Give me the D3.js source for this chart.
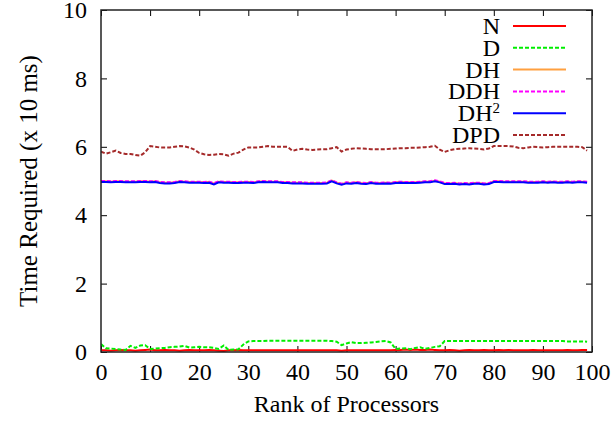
<!DOCTYPE html>
<html><head><meta charset="utf-8">
<script src="https://cdn.jsdelivr.net/npm/d3@7"></script>
<style>body{margin:0;background:#fff}svg{display:block}</style>
</head><body><svg id="c" width="611" height="421"></svg>
<script>
const ranks = d3.range(0,100);
const xTicks = [0,10,20,30,40,50,60,70,80,90,100];
const yTicks = [0,2,4,6,8,10];
const seriesNames = ["N","D","DH","DDH","DH2","DPD"];
const N = [0.05,0.05,0.04,0.05,0.06,0.05,0.05,0.04,0.05,0.06,0.07,0.05,0.05,0.06,0.05,0.05,0.04,0.05,0.06,0.05,
0.05,0.05,0.06,0.05,0.04,0.03,0.05,0.05,0.06,0.05,0.05,0.05,0.05,0.05,0.05,0.05,0.05,0.05,0.05,0.05,
0.05,0.05,0.05,0.05,0.05,0.05,0.05,0.05,0.05,0.04,0.05,0.05,0.05,0.05,0.05,0.05,0.05,0.05,0.05,0.05,
0.06,0.06,0.07,0.06,0.07,0.06,0.06,0.07,0.06,0.05,0.05,0.06,0.05,0.04,0.05,0.06,0.05,0.05,0.06,0.05,
0.05,0.06,0.05,0.06,0.05,0.05,0.05,0.05,0.06,0.05,0.05,0.05,0.05,0.05,0.05,0.06,0.05,0.05,0.06,0.06];
const D = [0.23,0.11,0.10,0.09,0.07,0.06,0.18,0.12,0.19,0.20,0.09,0.10,0.11,0.12,0.14,0.15,0.16,0.18,0.13,0.14,
0.15,0.14,0.14,0.12,0.09,0.19,0.06,0.07,0.08,0.22,0.31,0.32,0.32,0.32,0.33,0.33,0.33,0.33,0.33,0.33,
0.33,0.33,0.33,0.33,0.33,0.33,0.33,0.32,0.30,0.20,0.25,0.29,0.26,0.26,0.27,0.28,0.29,0.31,0.32,0.28,
0.09,0.10,0.11,0.08,0.12,0.14,0.09,0.12,0.15,0.17,0.32,0.32,0.32,0.32,0.32,0.32,0.32,0.32,0.32,0.32,
0.32,0.32,0.32,0.32,0.32,0.32,0.32,0.32,0.32,0.32,0.32,0.32,0.32,0.32,0.32,0.31,0.31,0.31,0.31,0.30];
const DH = [4.99,4.99,4.98,4.99,4.99,4.98,4.98,4.98,4.99,4.99,4.98,4.99,4.96,4.95,4.95,4.96,4.99,4.98,4.97,4.97,
4.97,4.96,4.97,4.93,4.98,4.97,4.97,4.96,4.96,4.97,4.97,4.96,4.98,4.99,4.98,4.98,4.98,4.96,4.96,4.95,
4.95,4.95,4.94,4.94,4.94,4.94,4.95,5.01,4.95,4.91,4.95,4.94,4.96,4.94,4.93,4.96,4.94,4.94,4.95,4.94,
4.96,4.97,4.96,4.96,4.96,4.97,4.98,4.98,5.01,4.98,4.93,4.93,4.94,4.92,4.93,4.92,4.94,4.94,4.92,4.93,
4.99,4.99,4.98,4.98,4.98,4.98,4.98,4.97,4.97,4.97,4.98,4.97,4.98,4.97,4.97,4.98,4.97,4.98,4.98,4.97];
const DDH = [5.00,5.00,4.99,5.00,5.00,4.99,4.99,4.99,5.00,5.00,4.99,5.00,4.97,4.96,4.96,4.97,5.00,4.99,4.98,4.98,
4.98,4.97,4.98,4.94,4.99,4.98,4.98,4.97,4.97,4.98,4.98,4.97,4.99,5.00,4.99,4.99,4.99,4.97,4.97,4.96,
4.96,4.96,4.95,4.95,4.95,4.95,4.96,5.02,4.96,4.92,4.96,4.95,4.97,4.95,4.94,4.97,4.95,4.95,4.96,4.95,
4.97,4.98,4.97,4.97,4.97,4.98,4.99,4.99,5.02,4.99,4.94,4.94,4.95,4.93,4.94,4.93,4.95,4.95,4.93,4.94,
5.00,5.00,4.99,4.99,4.99,4.99,4.99,4.98,4.98,4.98,4.99,4.98,4.99,4.98,4.98,4.99,4.98,4.99,4.99,4.98];
const DH2 = [4.97,4.97,4.96,4.97,4.97,4.96,4.96,4.96,4.97,4.97,4.96,4.97,4.94,4.93,4.93,4.94,4.97,4.96,4.95,4.95,
4.95,4.94,4.95,4.90,4.96,4.95,4.95,4.94,4.94,4.95,4.95,4.94,4.96,4.97,4.96,4.96,4.96,4.94,4.94,4.93,
4.93,4.93,4.92,4.92,4.92,4.92,4.93,4.99,4.93,4.89,4.93,4.92,4.94,4.92,4.91,4.94,4.92,4.92,4.93,4.92,
4.94,4.95,4.94,4.94,4.94,4.95,4.96,4.96,4.99,4.96,4.91,4.91,4.92,4.90,4.91,4.90,4.92,4.92,4.90,4.91,
4.97,4.97,4.96,4.96,4.96,4.96,4.96,4.95,4.95,4.95,4.96,4.95,4.96,4.95,4.95,4.96,4.95,4.96,4.96,4.95];
const DPD = [5.86,5.80,5.84,5.89,5.82,5.79,5.79,5.76,5.74,5.84,6.02,6.00,5.98,5.98,5.98,6.00,6.02,6.01,5.98,5.92,
5.82,5.78,5.76,5.77,5.79,5.78,5.74,5.80,5.83,5.92,5.98,5.98,5.98,6.00,6.02,6.00,6.00,6.00,6.00,5.88,
5.92,5.94,5.92,5.91,5.92,5.93,5.93,5.96,5.99,5.86,5.92,5.94,5.96,5.95,5.94,5.93,5.93,5.93,5.93,5.94,
5.95,5.96,5.96,5.97,5.97,5.98,5.99,6.00,6.03,5.92,5.85,5.90,5.93,5.94,5.95,5.96,5.95,5.94,5.92,5.95,
6.02,6.02,6.02,6.02,6.01,5.97,5.96,5.98,6.00,5.99,5.98,5.99,6.00,6.00,6.00,6.00,6.00,6.00,5.99,5.89];

const series = [
  {name:"N", values:N, color:"#ff0000", dash:null},
  {name:"D", values:D, color:"#00ee00", dash:"4,2"},
  {name:"DH", values:DH, color:"#ffa040", dash:null},
  {name:"DDH", values:DDH, color:"#ff00ff", dash:"4,2"},
  {name:"DH2", values:DH2, color:"#0000ff", dash:null},
  {name:"DPD", values:DPD, color:"#a52a2a", dash:"4,2"}
];

const FONT = '"Liberation Serif"';
const svg = d3.select("#c");
const L=101, R=592, T=10, B=352;
const x = d3.scaleLinear().domain([0,100]).range([L,R]);
const y = d3.scaleLinear().domain([0,10]).range([B,T]);

const fs = 24;
const ax = svg.append("g").attr("transform",`translate(0,${B})`)
  .call(d3.axisBottom(x).tickValues(xTicks).tickSize(-6).tickPadding(11).tickFormat(d3.format("d")));
const axTop = svg.append("g").attr("transform",`translate(0,${T})`)
  .call(d3.axisTop(x).tickValues(xTicks).tickSize(-6).tickFormat(""));
const ay = svg.append("g").attr("transform",`translate(${L},0)`)
  .call(d3.axisLeft(y).tickValues(yTicks).tickSize(-6).tickPadding(14).tickFormat(d3.format("d")));
const ayR = svg.append("g").attr("transform",`translate(${R},0)`)
  .call(d3.axisRight(y).tickValues(yTicks).tickSize(-6).tickFormat(""));
[ax,axTop,ay,ayR].forEach(g=>{
  g.select(".domain").remove();
  g.selectAll("line").attr("stroke","#000").attr("stroke-width",1);
  g.selectAll("text").style("font-size",fs+"px").style("font-family",FONT).attr("fill","#000");
});

const line = d3.line().x((d,i)=>x(ranks[i])).y(d=>y(d));
svg.append("clipPath").attr("id","clip").append("rect").attr("x",L).attr("y",T).attr("width",R-L).attr("height",B-T);
series.forEach(s=>{
  svg.append("path").datum(s.values).attr("d",line).attr("fill","none")
    .attr("stroke",s.color).attr("stroke-width",2)
    .attr("stroke-dasharray",s.dash).attr("clip-path","url(#clip)");
});

svg.append("rect").attr("x",L).attr("y",T).attr("width",R-L).attr("height",B-T)
  .attr("fill","none").attr("stroke","#222").attr("stroke-width",1.5);

const lg = svg.append("g");
series.forEach((s,i)=>{
  const yy = 26 + i*21.8;
  const t = lg.append("text").attr("x",500).attr("y",yy).attr("dy","0.33em")
    .attr("text-anchor","end").style("font-size",fs+"px").style("font-family",FONT);
  if(s.name==="DH2"){
    t.append("tspan").text("DH");
    t.append("tspan").style("font-size","15px").attr("dy","-0.55em").text("2");
  } else t.text(s.name);
  lg.append("line").attr("x1",513).attr("x2",566).attr("y1",yy).attr("y2",yy)
    .attr("stroke",s.color).attr("stroke-width",2).attr("stroke-dasharray",s.dash);
});

svg.append("text").attr("x",(L+R)/2).attr("y",412).attr("text-anchor","middle")
  .style("font-size",fs+"px").style("font-family",FONT).text("Rank of Processors");
svg.append("text").attr("transform",`translate(37,181) rotate(-90)`).attr("text-anchor","middle")
  .style("font-size","25px").style("font-family",FONT).text("Time Required (x 10 ms)");
</script></body></html>
